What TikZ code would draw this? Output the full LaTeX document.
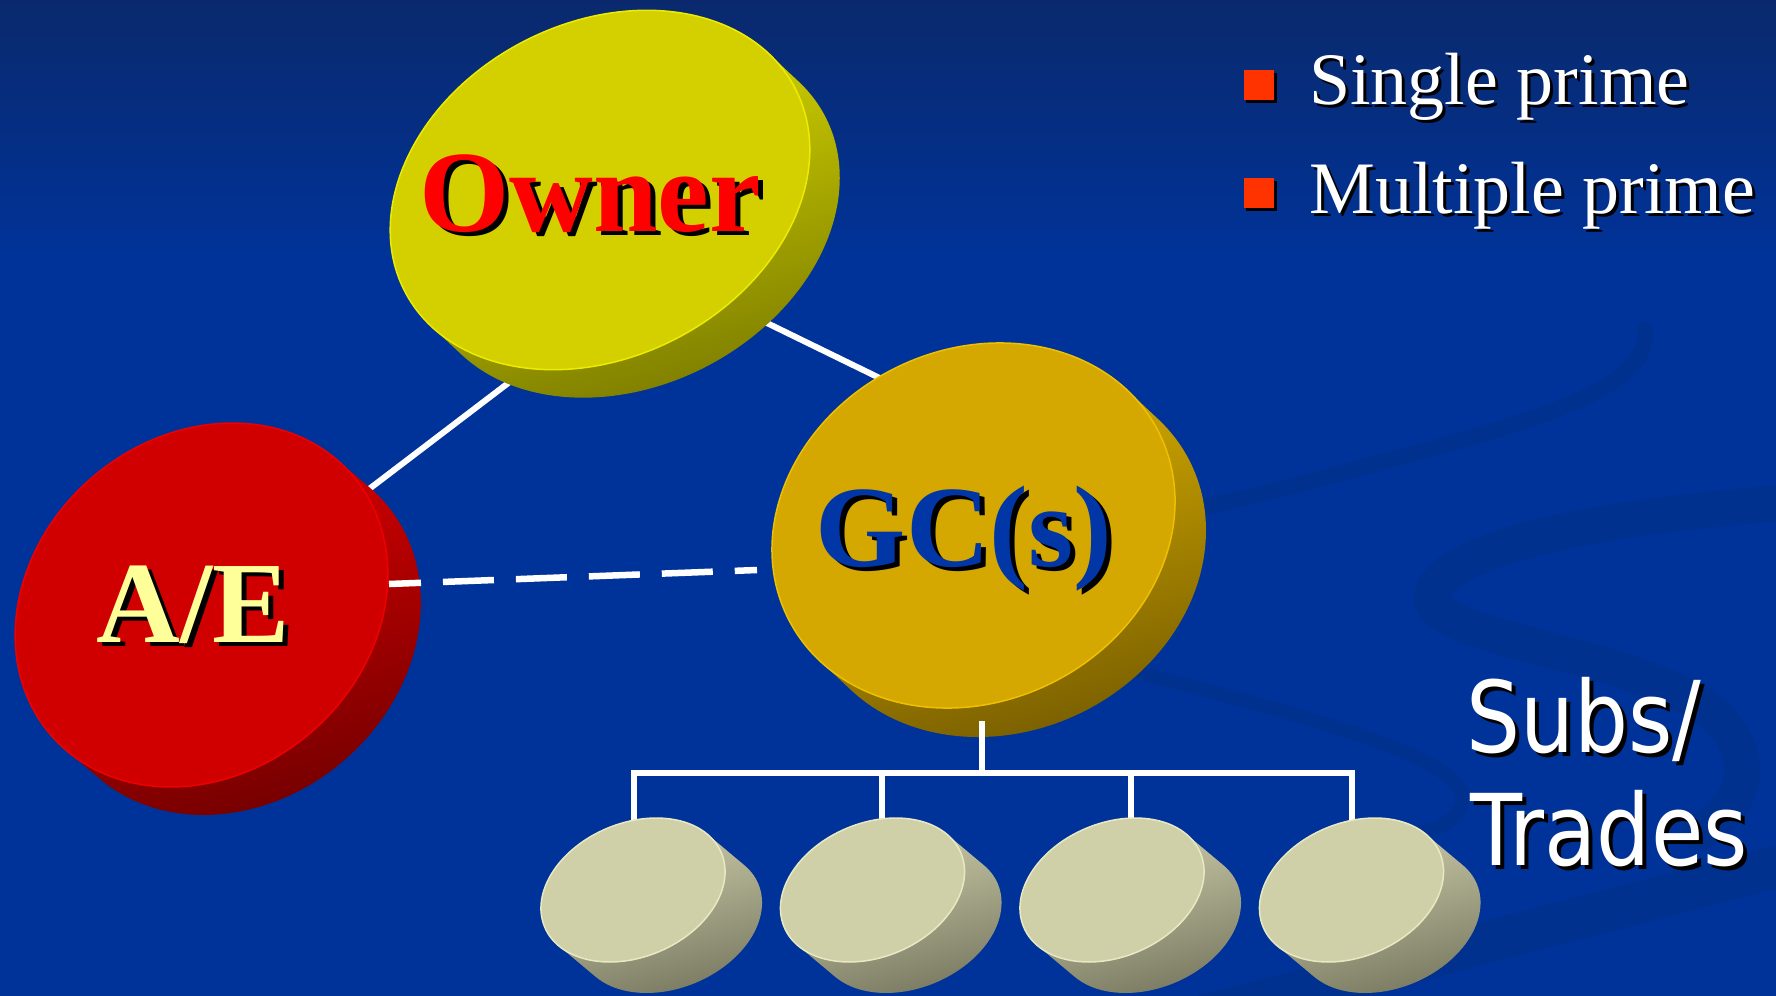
\documentclass[tikz,border=0pt]{standalone}
\usepackage{fontspec}
\setmainfont{Liberation Serif}
\newfontfamily\subsfont[FakeStretch=0.86]{DejaVu Sans}
\usetikzlibrary{calc}

\definecolor{bgtop}{HTML}{0A296C}
\definecolor{bgmain}{HTML}{003399}
\definecolor{swirlblue}{HTML}{00318F}
\definecolor{bulletred}{HTML}{FF3300}
% disc colours: face, rim, side (light), dark
\definecolor{ownerface}{HTML}{D4D000}
\definecolor{ownerrim}{HTML}{ECEC00}
\definecolor{ownerside}{HTML}{F6F600}
\definecolor{ownerdark}{HTML}{747400}
\definecolor{aeface}{HTML}{D00000}
\definecolor{aerim}{HTML}{EE0000}
\definecolor{aeside}{HTML}{F40000}
\definecolor{aedark}{HTML}{700000}
\definecolor{gcface}{HTML}{D4A800}
\definecolor{gcrim}{HTML}{EEC000}
\definecolor{gcside}{HTML}{F6C800}
\definecolor{gcdark}{HTML}{745A00}
\definecolor{subface}{HTML}{D0D0A8}
\definecolor{subrim}{HTML}{E8E8C2}
\definecolor{subside}{HTML}{F4F4CC}
\definecolor{subdark}{HTML}{70705A}
\definecolor{ownertext}{HTML}{FF0000}
\definecolor{aetext}{HTML}{FFFF99}
\definecolor{gctext}{HTML}{0036A6}

% text with a hard black drop shadow
\newcommand\shadowed[3]{\rlap{\kern#1\raisebox{-#2}{\color{black}#3}}#3}

% geometry of a tilted disc: centre (x, y down), semi-axes, tilt, thickness offset
\newcommand\setdisc[7]{\def\dcx{#1}\def\dcy{#2}\def\da{#3}\def\db{#4}\def\drot{#5}\def\ddx{#6}\def\ddy{#7}}
% draws the disc: shaded side band, then the flat top face
\newcommand\drawdisc[1]{%
  \pgfmathsetmacro\dxl{(\ddx)*cos(\drot)-(\ddy)*sin(\drot)}%
  \pgfmathsetmacro\dyl{-(\ddx)*sin(\drot)-(\ddy)*cos(\drot)}%
  \pgfmathsetmacro\tz{atan2(-(\db)*(\dxl),(\da)*(\dyl))}%
  \pgfmathsetmacro\tsx{(\da)*cos(\tz)}%
  \pgfmathsetmacro\tsy{(\db)*sin(\tz)}%
  \begin{scope}
    \clip[shift={(\dcx,-\dcy)},rotate=\drot]
      (\tsx,\tsy) -- ++(\dxl,\dyl)
      arc[start angle=\tz,delta angle=180,x radius=\da,y radius=\db]
      -- ++(-\dxl,-\dyl) -- cycle;
    \shade[top color=#1side, bottom color=#1dark, shading angle=15]
      (\dcx-\da-40,-\dcy+\da+40) rectangle (\dcx+\da+40,-\dcy-\da-40);
  \end{scope}
  \fill[#1face, draw=#1rim, line width=1.5pt, shift={(\dcx,-\dcy)}, rotate=\drot]
    (0,0) ellipse[x radius=\da, y radius=\db];
}

\tikzset{
  connector/.style={draw=white, line width=6pt},
  dashedconnector/.style={draw=white, line width=6.5pt, dash pattern=on 51pt off 22pt, dash phase=19pt},
  treeline/.style={draw=white, line width=5.5pt},
  swirl/.style={draw=swirlblue, line cap=round},
  disclabel/.style={inner sep=0pt, anchor=base, font=\fontsize{116}{120}\selectfont\bfseries},
  bullettext/.style={inner sep=0pt, anchor=base west, text=white, font=\fontsize{74}{80}\selectfont},
  bulletbox/.style={fill=bulletred, minimum size=30pt, inner sep=0pt},
  subslabel/.style={inner sep=0pt, anchor=base west, text=white, font=\subsfont\fontsize{99}{113}\selectfont},
}

\begin{document}
\begin{tikzpicture}[x=1pt,y=1pt]
\useasboundingbox (0,0) rectangle (1776,-995);
\clip (0,0) rectangle (1776,-995);

% background
\fill[bgmain] (-5,5) rectangle (1781,-1000);
\shade[top color=bgtop, bottom color=bgmain] (-5,5) rectangle (1781,-260);

% decorative swirls
\draw[swirl, line width=16pt] (1645,-330) .. controls (1650,-395) and (1520,-425) .. (1300,-484)
  .. controls (1180,-515) and (1080,-532) .. (990,-548);
\draw[swirl, line width=36pt] (1800,-502) .. controls (1600,-515) and (1440,-548) .. (1432,-596)
  .. controls (1426,-640) and (1640,-652) .. (1715,-715) .. controls (1760,-760) and (1745,-805) .. (1700,-832);
\draw[swirl, line width=14pt] (1140,-673) .. controls (1330,-722) and (1472,-762) .. (1462,-802)
  .. controls (1455,-832) and (1410,-838) .. (1370,-832);
\draw[swirl, line width=42pt] (1150,-1030) -- (1810,-858);

% connector end points
\coordinate (ownerSW) at (528,-368);
\coordinate (aeNE) at (356,-499);
\coordinate (ownerSE) at (728,-304);
\coordinate (gcNW) at (898,-387);
\coordinate (aeE) at (389,-584);
\coordinate (gcW) at (757,-570);
\coordinate (gcS) at (982,-721);
\coordinate (bar) at (982,-773);
\coordinate (subA) at (634,-830);
\coordinate (subB) at (882,-830);
\coordinate (subC) at (1131,-830);
\coordinate (subD) at (1352,-830);

% solid links behind the discs
\draw[connector] (ownerSW) -- (aeNE);
\draw[connector] (ownerSE) -- (gcNW);

% Owner disc
\setdisc{600}{190}{220}{167}{27.6}{30}{28}\drawdisc{owner}
\coordinate (owner) at (600,-190);
% A/E disc
\setdisc{201.5}{605}{199}{168}{40.9}{33}{28}\drawdisc{ae}
\coordinate (ae) at (201.5,-605);

% dashed link A/E -- GC
\draw[dashedconnector] (aeE) -- (gcW);

% GC disc
\setdisc{973.5}{525.5}{207.4}{175.8}{26.5}{31}{29}\drawdisc{gc}
\coordinate (gc) at (973.5,-525.5);

% tree to the subcontractors
\draw[treeline] (gcS) -- (bar);
\draw[treeline] (subA) |- (bar) -| (subD);
\draw[treeline] (subB) -- (subB |- bar);
\draw[treeline] (subC) -- (subC |- bar);

% subcontractor discs
\foreach \sx in {633,872.5,1112,1351.5}{
  \setdisc{\sx}{890}{95.8}{66.9}{22.8}{37}{31}\drawdisc{sub}
}

% disc labels
\node[disclabel, text=ownertext] (ownerlabel) at (590,-231) {\shadowed{5pt}{4pt}{Owner}};
\node[disclabel, text=aetext] (aelabel) at (193,-642) {\shadowed{5pt}{4pt}{A/E}};
\node[disclabel, text=gctext] (gclabel) at (964,-566) {\shadowed{5pt}{4pt}{GC(s)}};

% bullet list
\fill[black] (1246,-73) rectangle (1277,-103);
\node[bulletbox] (bulletA) at (1258.5,-85) {};
\fill[black] (1246,-181) rectangle (1277,-211);
\node[bulletbox] (bulletB) at (1258.5,-193) {};
\node[bullettext] (single) at (1309,-105) {\shadowed{3pt}{3pt}{Single prime}};
\node[bullettext] (multiple) at (1309,-213) {\shadowed{3pt}{3pt}{Multiple prime}};

% group label for the subcontractors
\node[subslabel] (subs) at (1466,-752) {\shadowed{4pt}{4pt}{Subs/}};
\node[subslabel] (trades) at (1470,-865) {\shadowed{4pt}{4pt}{Trades}};
\end{tikzpicture}
\end{document}
